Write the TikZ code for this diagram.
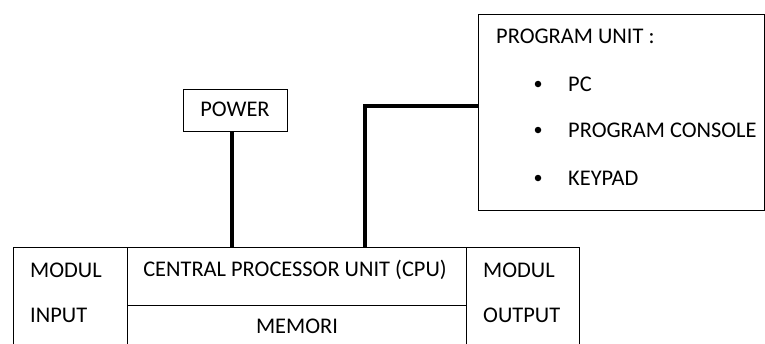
\documentclass[tikz,border=0pt]{standalone}
\usepackage{fontspec}
\setmainfont{Carlito}
\usetikzlibrary{positioning}

\begin{document}
\begin{tikzpicture}[
    x=1pt, y=-1pt,
    box/.style={draw, line width=1pt, anchor=north west},
    wire/.style={line width=4.5pt},
    bullet/.style={circle, fill, inner sep=2.3pt},
    every node/.style={font=\fontsize{22.4}{26}\selectfont, inner sep=0pt}
  ]
  \useasboundingbox (0,0) rectangle (765,343);
  \clip (0,0) rectangle (765,343);

  % ---- PLC ----
  % Modules
  \node[box, minimum width=114pt, minimum height=110pt] (inbox)  at (13,247)  {};
  \node[box, minimum width=339pt, minimum height=58pt]  (cpubox) at (127,247) {};
  \node[box, minimum width=339pt, minimum height=52pt]  (membox) at (127,305) {};
  \node[box, minimum width=113pt, minimum height=110pt] (outbox) at (466,247) {};

  % Texts
  \node[anchor=west] (inmodul) at (30,270) {MODUL};
  \node[anchor=west] (ininput) at (30,315) {INPUT};
  \node (cpu) at (295,270) {CENTRAL PROCESSOR UNIT (CPU)};
  \node (mem) at (297,326) {MEMORI};
  \node[anchor=west] (outmodul) at (483,270) {MODUL};
  \node[anchor=west] (outoutput) at (483,315) {OUTPUT};

  % Power
  \node[box, minimum width=104pt, minimum height=42pt] (power) at (183,89) {};
  \node (powertxt) at (235,109) {POWER};

  % Program unit
  \node[box, minimum width=285.5pt, minimum height=196pt] (prog) at (478,14) {};
  \node[anchor=west] (progtxt) at (496,36) {PROGRAM UNIT :};
  \node[bullet] (b1) at (538,84)  {};
  \node[bullet] (b2) at (538,130) {};
  \node[bullet] (b3) at (538,178) {};
  \node[anchor=west] (pc)      at (568,84)  {PC};
  \node[anchor=west] (console) at (568,130) {PROGRAM CONSOLE};
  \node[anchor=west] (keypad)  at (568,178) {KEYPAD};

  % Wires
  \coordinate (pwdown) at (232,131);
  \coordinate (cpuup) at (365,247);
  \coordinate (bend) at (365,106);
  \draw[wire] (pwdown) -- (pwdown |- cpubox.north);
  \draw[wire] (cpuup) -- (bend) -- (bend -| prog.west);
\end{tikzpicture}
\end{document}
